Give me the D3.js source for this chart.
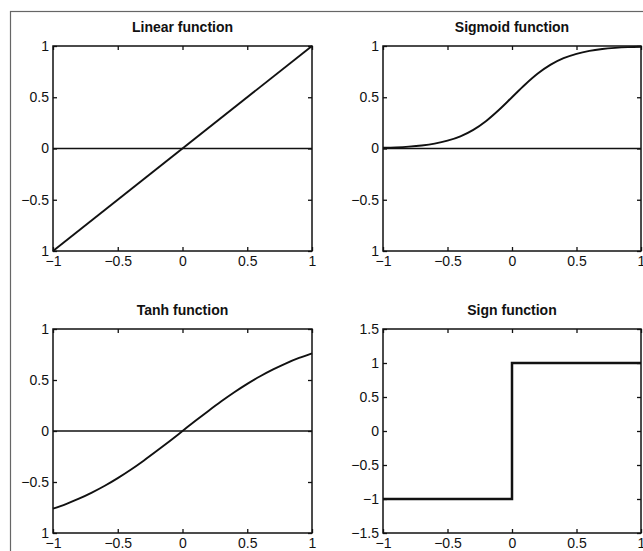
<!DOCTYPE html>
<html>
<head>
<meta charset="utf-8">
<script src="https://cdn.jsdelivr.net/npm/d3@7"></script>
<style>
	html, body { margin: 0; padding: 0; background: #fff; }
	svg { display: block; font-family: "Liberation Sans", Arial, Helvetica, sans-serif; }
</style>
</head>
<body>
<svg width="643" height="551"></svg>
<script>
const inkColor = '#111';
const frameColor = '#666';

// ticks shared by the panels
const xTicks = [-1, -0.5, 0, 0.5, 1];
const xTickLabels = ['−1', '−0.5', '0', '0.5', '1'];
const yTicksUnit = [-1, -0.5, 0, 0.5, 1];
const yTickLabelsUnit = ['1', '−0.5', '0', '0.5', '1'];
const yTicksSign = [-1.5, -1, -0.5, 0, 0.5, 1, 1.5];
const yTickLabelsSign = ['−1.5', '−1', '−0.5', '0', '0.5', '1', '1.5'];

// curves
const linearX = [-1, 1];
const linearY = [-1, 1];

const sampleX = [-1, -0.9, -0.8, -0.7, -0.6, -0.5, -0.4, -0.3, -0.2, -0.1, 0,
	0.1, 0.2, 0.3, 0.4, 0.5, 0.6, 0.7, 0.8, 0.9, 1];
const sigmoidY = [0.007, 0.011, 0.018, 0.029, 0.047, 0.076, 0.119, 0.182, 0.269, 0.378, 0.5,
	0.622, 0.731, 0.818, 0.881, 0.924, 0.953, 0.971, 0.982, 0.989, 0.993];
const tanhY = [-0.762, -0.716, -0.664, -0.604, -0.537, -0.462, -0.380, -0.291, -0.197, -0.100, 0,
	0.100, 0.197, 0.291, 0.380, 0.462, 0.537, 0.604, 0.664, 0.716, 0.762];

const signX = [-1, 0, 0, 1];
const signY = [-1, -1, 1, 1];

const panels = [
	{ title: 'Linear function', xs: linearX, ys: linearY, yTicks: yTicksUnit, yLabels: yTickLabelsUnit,
		yDomain: [-1, 1], zeroLine: true, width: 1.9, box: [53, 46, 312, 251] },
	{ title: 'Sigmoid function', xs: sampleX, ys: sigmoidY, yTicks: yTicksUnit, yLabels: yTickLabelsUnit,
		yDomain: [-1, 1], zeroLine: true, width: 1.9, box: [383, 46, 641, 251] },
	{ title: 'Tanh function', xs: sampleX, ys: tanhY, yTicks: yTicksUnit, yLabels: yTickLabelsUnit,
		yDomain: [-1, 1], zeroLine: true, width: 1.9, box: [53, 329, 312, 533] },
	{ title: 'Sign function', xs: signX, ys: signY, yTicks: yTicksSign, yLabels: yTickLabelsSign,
		yDomain: [-1.5, 1.5], zeroLine: false, width: 2.5, box: [383, 329, 641, 533] },
];

const svg = d3.select('svg');

// outer frame (cut off at right and bottom)
svg.append('rect')
	.attr('x', 10.5)
	.attr('y', 11.5)
	.attr('width', 700)
	.attr('height', 700)
	.attr('fill', 'none')
	.attr('stroke', frameColor)
	.attr('stroke-width', 1.2);

panels.forEach((p) => {
	const [left, top, right, bottom] = p.box;
	const x = d3.scaleLinear().domain([-1, 1]).range([left, right]);
	const y = d3.scaleLinear().domain(p.yDomain).range([bottom, top]);

	const g = svg.append('g');

	const styleAxis = (sel) => {
		sel.select('.domain').remove();
		sel.selectAll('.tick line').attr('stroke', inkColor).attr('stroke-width', 1.3);
		sel.selectAll('.tick text')
			.attr('fill', inkColor)
			.attr('font-size', 14)
			.attr('font-family', '"Liberation Sans", Arial, Helvetica, sans-serif');
	};

	g.append('g')
		.attr('transform', `translate(0,${bottom})`)
		.call(d3.axisBottom(x).tickValues(xTicks)
			.tickFormat((d, i) => xTickLabels[i])
			.tickSizeInner(-4).tickSizeOuter(0).tickPadding(5))
		.call(styleAxis);

	g.append('g')
		.attr('transform', `translate(0,${top})`)
		.call(d3.axisTop(x).tickValues(xTicks).tickFormat('')
			.tickSizeInner(-4).tickSizeOuter(0))
		.call(styleAxis);

	g.append('g')
		.attr('transform', `translate(${left},0)`)
		.call(d3.axisLeft(y).tickValues(p.yTicks)
			.tickFormat((d, i) => p.yLabels[i])
			.tickSizeInner(-4).tickSizeOuter(0).tickPadding(4))
		.call(styleAxis);

	g.append('g')
		.attr('transform', `translate(${right},0)`)
		.call(d3.axisRight(y).tickValues(p.yTicks).tickFormat('')
			.tickSizeInner(-4).tickSizeOuter(0))
		.call(styleAxis);

	g.append('rect')
		.attr('x', left)
		.attr('y', top)
		.attr('width', right - left)
		.attr('height', bottom - top)
		.attr('fill', 'none')
		.attr('stroke', inkColor)
		.attr('stroke-width', 1.5);

	if (p.zeroLine) {
		g.append('line')
			.attr('x1', x(-1))
			.attr('x2', x(1))
			.attr('y1', y(0))
			.attr('y2', y(0))
			.attr('stroke', inkColor)
			.attr('stroke-width', 1.5);
	}

	const pts = p.xs.map((v, i) => [v, p.ys[i]]);
	const line = d3.line()
		.x(d => x(d[0]))
		.y(d => y(d[1]))
		.curve(p.xs.length > 4 ? d3.curveMonotoneX : d3.curveLinear);

	g.append('path')
		.datum(pts)
		.attr('d', line)
		.attr('fill', 'none')
		.attr('stroke', inkColor)
		.attr('stroke-width', p.width)
		.attr('stroke-linejoin', 'miter');

	g.append('text')
		.attr('x', (left + right) / 2)
		.attr('y', top - 14)
		.attr('text-anchor', 'middle')
		.attr('font-size', 14)
		.attr('font-weight', 'bold')
		.attr('fill', inkColor)
		.text(p.title);
});
</script>
</body>
</html>
